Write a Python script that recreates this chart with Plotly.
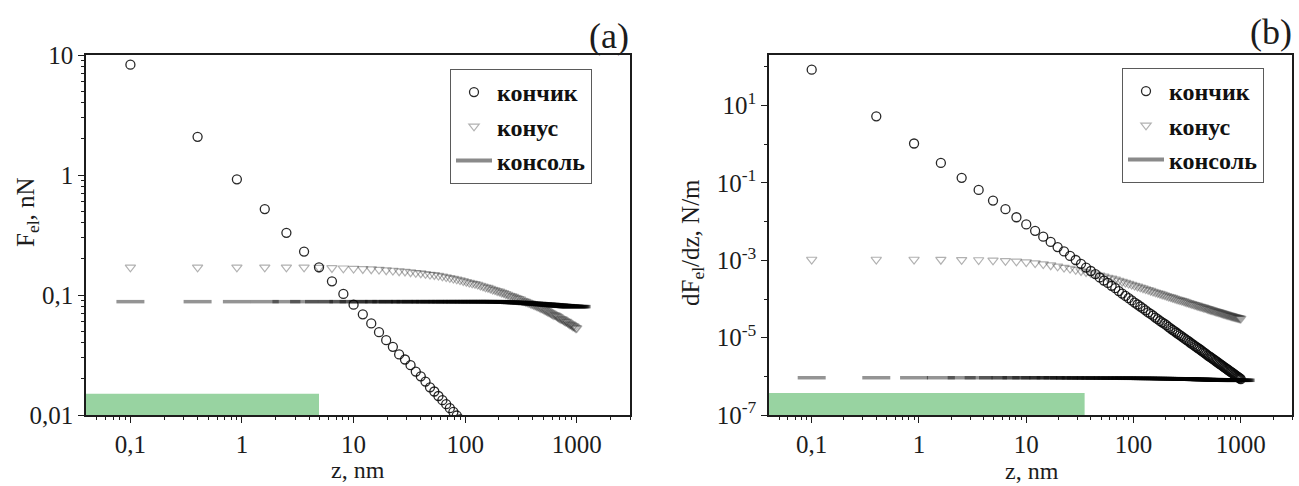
import math
import plotly.graph_objects as go

# Tip-sample separation z (nm); every series in both panels is sampled on it
z_nm = [
    0.1, 0.4, 0.9, 1.6, 2.5, 3.6, 4.9, 6.4, 8.1, 10.0,
    12.1, 14.4, 16.9, 19.6, 22.5, 25.6, 28.9, 32.4, 36.1, 40.0,
    44.1, 48.4, 52.9, 57.6, 62.5, 67.6, 72.9, 78.4, 84.1, 90.0,
    96.1, 102.4, 108.9, 115.6, 122.5, 129.6, 136.9, 144.4, 152.1, 160.0,
    168.1, 176.4, 184.9, 193.6, 202.5, 211.6, 220.9, 230.4, 240.1, 250.0,
    260.1, 270.4, 280.9, 291.6, 302.5, 313.6, 324.9, 336.4, 348.1, 360.0,
    372.1, 384.4, 396.9, 409.6, 422.5, 435.6, 448.9, 462.4, 476.1, 490.0,
    504.1, 518.4, 532.9, 547.6, 562.5, 577.6, 592.9, 608.4, 624.1, 640.0,
    656.1, 672.4, 688.9, 705.6, 722.5, 739.6, 756.9, 774.4, 792.1, 810.0,
    828.1, 846.4, 864.9, 883.6, 902.5, 921.6, 940.9, 960.4, 980.1, 1000.0,
]

# (a) electrostatic force, nN (tip values shown down to the 0.01 floor)
tip_force = [
    8.3, 2.08, 0.92, 0.52, 0.33, 0.23, 0.17, 0.13, 0.102, 0.083,
    0.069, 0.058, 0.049, 0.042, 0.037, 0.032, 0.029, 0.026, 0.023, 0.021,
    0.019, 0.017, 0.0157, 0.0144, 0.0133, 0.0123, 0.0114, 0.0106, 0.0099, 0.0092,
]
cone_force = [
    0.170, 0.170, 0.170, 0.170, 0.170, 0.170, 0.169, 0.168, 0.167, 0.166,
    0.165, 0.164, 0.163, 0.161, 0.160, 0.158, 0.157, 0.155, 0.153, 0.152,
    0.150, 0.148, 0.147, 0.145, 0.143, 0.141, 0.139, 0.137, 0.135, 0.133,
    0.131, 0.129, 0.127, 0.125, 0.124, 0.122, 0.120, 0.118, 0.116, 0.115,
    0.113, 0.111, 0.110, 0.108, 0.107, 0.105, 0.104, 0.102, 0.101, 0.099,
    0.098, 0.097, 0.095, 0.094, 0.093, 0.092, 0.090, 0.089, 0.088, 0.087,
    0.086, 0.085, 0.084, 0.083, 0.082, 0.081, 0.080, 0.079, 0.078, 0.077,
    0.076, 0.075, 0.074, 0.073, 0.072, 0.071, 0.070, 0.069, 0.068, 0.068,
    0.067, 0.066, 0.065, 0.064, 0.063, 0.063, 0.062, 0.061, 0.060, 0.060,
    0.059, 0.058, 0.057, 0.057, 0.056, 0.055, 0.055, 0.054, 0.053, 0.053,
]
lever_force = [
    0.088, 0.088, 0.088, 0.088, 0.088, 0.088, 0.088, 0.088, 0.088, 0.088,
    0.088, 0.088, 0.088, 0.088, 0.088, 0.088, 0.088, 0.088, 0.088, 0.088,
    0.088, 0.088, 0.088, 0.088, 0.088, 0.088, 0.088, 0.088, 0.088, 0.088,
    0.088, 0.088, 0.088, 0.088, 0.088, 0.088, 0.088, 0.088, 0.088, 0.088,
    0.088, 0.088, 0.088, 0.088, 0.0875, 0.0875, 0.0875, 0.0875, 0.087, 0.087,
    0.087, 0.087, 0.0865, 0.0865, 0.0865, 0.086, 0.086, 0.086, 0.0855, 0.0855,
    0.0855, 0.085, 0.085, 0.085, 0.0845, 0.0845, 0.0845, 0.084, 0.084, 0.084,
    0.0835, 0.0835, 0.0835, 0.083, 0.083, 0.083, 0.0825, 0.0825, 0.0825, 0.082,
    0.082, 0.082, 0.0815, 0.0815, 0.0815, 0.081, 0.081, 0.081, 0.081, 0.0805,
    0.0805, 0.0805, 0.0805, 0.080, 0.080, 0.080, 0.080, 0.080, 0.080, 0.080,
]

# (b) force gradient dF/dz, N/m
tip_grad = [
    85, 5.3, 1.05, 0.33, 0.136, 0.066, 0.035, 0.021, 0.013, 0.0085,
    0.0058, 0.0041, 0.0030, 0.0022, 0.0017, 0.0013, 0.00102, 0.00081, 0.00065, 0.00053,
    4.4e-4, 3.6e-4, 3.0e-4, 2.6e-4, 2.2e-4, 1.9e-4, 1.6e-4, 1.38e-4, 1.20e-4, 1.05e-4,
    9.2e-5, 8.1e-5, 7.2e-5, 6.4e-5, 5.7e-5, 5.1e-5, 4.5e-5, 4.1e-5, 3.7e-5, 3.3e-5,
    3.0e-5, 2.7e-5, 2.5e-5, 2.3e-5, 2.1e-5, 1.9e-5, 1.74e-5, 1.60e-5, 1.47e-5, 1.36e-5,
    1.26e-5, 1.16e-5, 1.08e-5, 1.00e-5, 9.3e-6, 8.6e-6, 8.1e-6, 7.5e-6, 7.0e-6, 6.6e-6,
    6.1e-6, 5.8e-6, 5.4e-6, 5.1e-6, 4.8e-6, 4.5e-6, 4.2e-6, 4.0e-6, 3.75e-6, 3.5e-6,
    3.35e-6, 3.16e-6, 3.0e-6, 2.83e-6, 2.69e-6, 2.55e-6, 2.42e-6, 2.3e-6, 2.18e-6, 2.08e-6,
    1.97e-6, 1.88e-6, 1.79e-6, 1.71e-6, 1.63e-6, 1.55e-6, 1.48e-6, 1.42e-6, 1.35e-6, 1.30e-6,
    1.24e-6, 1.19e-6, 1.14e-6, 1.09e-6, 1.04e-6, 1.00e-6, 9.6e-7, 9.2e-7, 8.8e-7, 8.5e-7,
]
cone_grad = [
    1.05e-3, 1.05e-3, 1.05e-3, 1.04e-3, 1.03e-3, 1.02e-3, 1.00e-3, 9.7e-4, 9.4e-4, 9.0e-4,
    8.5e-4, 8.0e-4, 7.5e-4, 7.0e-4, 6.5e-4, 6.1e-4, 5.7e-4, 5.3e-4, 5.0e-4, 4.7e-4,
    4.4e-4, 4.1e-4, 3.85e-4, 3.6e-4, 3.4e-4, 3.2e-4, 3.0e-4, 2.8e-4, 2.65e-4, 2.5e-4,
    2.36e-4, 2.23e-4, 2.11e-4, 2.0e-4, 1.9e-4, 1.8e-4, 1.72e-4, 1.64e-4, 1.56e-4, 1.49e-4,
    1.43e-4, 1.37e-4, 1.31e-4, 1.26e-4, 1.21e-4, 1.16e-4, 1.12e-4, 1.08e-4, 1.04e-4, 1.0e-4,
    9.7e-5, 9.4e-5, 9.1e-5, 8.8e-5, 8.5e-5, 8.25e-5, 8.0e-5, 7.75e-5, 7.5e-5, 7.3e-5,
    7.1e-5, 6.9e-5, 6.7e-5, 6.5e-5, 6.35e-5, 6.2e-5, 6.05e-5, 5.9e-5, 5.75e-5, 5.6e-5,
    5.45e-5, 5.3e-5, 5.2e-5, 5.1e-5, 4.95e-5, 4.85e-5, 4.75e-5, 4.65e-5, 4.55e-5, 4.45e-5,
    4.35e-5, 4.25e-5, 4.17e-5, 4.09e-5, 4.01e-5, 3.93e-5, 3.86e-5, 3.79e-5, 3.72e-5, 3.65e-5,
    3.59e-5, 3.53e-5, 3.47e-5, 3.41e-5, 3.36e-5, 3.31e-5, 3.26e-5, 3.21e-5, 3.16e-5, 3.12e-5,
]
lever_grad = [
    9.2e-7, 9.2e-7, 9.2e-7, 9.2e-7, 9.2e-7, 9.2e-7, 9.2e-7, 9.2e-7, 9.2e-7, 9.2e-7,
    9.2e-7, 9.2e-7, 9.2e-7, 9.2e-7, 9.1e-7, 9.1e-7, 9.1e-7, 9.1e-7, 9.1e-7, 9.1e-7,
    9.0e-7, 9.0e-7, 9.0e-7, 9.0e-7, 9.0e-7, 9.0e-7, 9.0e-7, 9.0e-7, 9.0e-7, 9.0e-7,
    8.9e-7, 8.9e-7, 8.9e-7, 8.9e-7, 8.9e-7, 8.8e-7, 8.8e-7, 8.8e-7, 8.8e-7, 8.8e-7,
    8.8e-7, 8.8e-7, 8.8e-7, 8.7e-7, 8.7e-7, 8.7e-7, 8.7e-7, 8.6e-7, 8.6e-7, 8.6e-7,
    8.6e-7, 8.6e-7, 8.6e-7, 8.5e-7, 8.5e-7, 8.5e-7, 8.5e-7, 8.4e-7, 8.4e-7, 8.4e-7,
    8.4e-7, 8.4e-7, 8.4e-7, 8.3e-7, 8.3e-7, 8.3e-7, 8.3e-7, 8.2e-7, 8.2e-7, 8.2e-7,
    8.2e-7, 8.2e-7, 8.2e-7, 8.2e-7, 8.1e-7, 8.1e-7, 8.1e-7, 8.1e-7, 8.1e-7, 8.1e-7,
    8.1e-7, 8.1e-7, 8.0e-7, 8.0e-7, 8.0e-7, 8.0e-7, 8.0e-7, 8.0e-7, 8.0e-7, 8.0e-7,
    7.9e-7, 7.9e-7, 7.9e-7, 7.9e-7, 7.9e-7, 7.9e-7, 7.9e-7, 7.9e-7, 7.9e-7, 7.9e-7,
]

# Shaded ranges along the bottom of each panel: [z_from, z_to], [value_from, value_to]
band_a_z = [0.04, 4.9]
band_a_v = [0.01, 0.015]
band_b_z = [0.04, 35.0]
band_b_v = [1e-7, 3.7e-7]

series_names = ["кончик", "конус", "консоль"]

x_tick_vals = [0.1, 1, 10, 100, 1000]
x_tick_text = ["0,1", "1", "10", "100", "1000"]
x_minor_vals = [0.05, 0.06, 0.07, 0.08, 0.09,
                0.2, 0.3, 0.4, 0.5, 0.6, 0.7, 0.8, 0.9,
                2, 3, 4, 5, 6, 7, 8, 9,
                20, 30, 40, 50, 60, 70, 80, 90,
                200, 300, 400, 500, 600, 700, 800, 900,
                2000, 3000]
ya_tick_vals = [0.01, 0.1, 1, 10]
ya_tick_text = ["0,01", "0,1", "1", "10"]
ya_minor_vals = [0.02, 0.03, 0.04, 0.05, 0.06, 0.07, 0.08, 0.09,
                 0.2, 0.3, 0.4, 0.5, 0.6, 0.7, 0.8, 0.9,
                 2, 3, 4, 5, 6, 7, 8, 9]
yb_tick_vals = [1e-7, 1e-5, 1e-3, 1e-1, 1e1]
yb_tick_text = ["10<sup>-7</sup>", "10<sup>-5</sup>", "10<sup>-3</sup>",
                "10<sup>-1</sup>", "10<sup>1</sup>"]
yb_minor_vals = [1e-6, 1e-4, 1e-2, 1, 100]

W, H = 1299, 486
FONT = "Liberation Serif"
INK = "#1c1c1c"
GREEN = "#98d3a1"
TIP_COL = "rgba(10,10,10,0.88)"
CONE_COL = "rgba(40,40,40,0.36)"
LEVER_COL = "rgba(0,0,0,0.42)"

fig = go.Figure()


def add_panel(xa, ya, tip, cone, lever, band_z, band_v, legend_id):
    # shaded strip along the axis floor
    fig.add_trace(go.Scatter(
        x=[band_z[0], band_z[1], band_z[1], band_z[0], band_z[0]],
        y=[band_v[0], band_v[0], band_v[1], band_v[1], band_v[0]],
        fill="toself", fillcolor=GREEN, mode="lines", line=dict(width=0),
        hoverinfo="skip", showlegend=False, xaxis=xa, yaxis=ya))
    fig.add_trace(go.Scatter(
        x=z_nm[:len(cone)], y=cone, mode="markers", name=series_names[1],
        marker=dict(symbol="triangle-down-open", size=9, color=CONE_COL,
                    line=dict(width=1.2, color=CONE_COL)),
        legend=legend_id, legendrank=2, xaxis=xa, yaxis=ya))
    fig.add_trace(go.Scatter(
        x=z_nm[:len(tip)], y=tip, mode="markers", name=series_names[0],
        marker=dict(symbol="circle-open", size=9, color=TIP_COL,
                    line=dict(width=1.3, color=TIP_COL)),
        legend=legend_id, legendrank=1, xaxis=xa, yaxis=ya))
    fig.add_trace(go.Scatter(
        x=z_nm[:len(lever)], y=lever, mode="markers", name=series_names[2],
        marker=dict(symbol="line-ew", size=20, color=LEVER_COL,
                    line=dict(width=3.5, color=LEVER_COL)),
        showlegend=False, xaxis=xa, yaxis=ya))
    # legend key for the cantilever series drawn as a short bar
    fig.add_trace(go.Scatter(
        x=[None], y=[None], mode="lines", name=series_names[2],
        line=dict(color="#8a8a8a", width=4),
        legend=legend_id, legendrank=3, xaxis=xa, yaxis=ya))


add_panel("x", "y", tip_force, cone_force, lever_force, band_a_z, band_a_v, "legend")
add_panel("x2", "y2", tip_grad, cone_grad, lever_grad, band_b_z, band_b_v, "legend2")

x_range = [math.log10(0.04), math.log10(3000)]
y_dom = [71 / H, 431 / H]

common_axis = dict(
    type="log", showline=True, linecolor=INK, linewidth=1.5, mirror=True,
    ticks="outside", ticklen=6, tickwidth=1.3, tickcolor=INK,
    showgrid=False, zeroline=False, automargin=False,
    tickfont=dict(family=FONT, size=25, color=INK),
)


def minor(vals):
    return dict(tickmode="array", tickvals=vals, ticks="outside", ticklen=3,
                tickwidth=1, tickcolor=INK, showgrid=False)


legend_common = dict(
    xanchor="left", yanchor="top", bgcolor="white",
    bordercolor="#5a5a5a", borderwidth=1, itemwidth=36,
    font=dict(family=FONT, size=24, color="#111", weight="bold"),
    tracegroupgap=0,
)

fig.update_layout(
    width=W, height=H, autosize=False,
    margin=dict(l=0, r=0, t=0, b=0, pad=0, autoexpand=False),
    paper_bgcolor="white", plot_bgcolor="white",
    xaxis=dict(common_axis, domain=[86 / W, 630 / W], range=x_range, anchor="y",
               tickvals=x_tick_vals, ticktext=x_tick_text, ticklabelstandoff=0,
               minor=minor(x_minor_vals)),
    yaxis=dict(common_axis, domain=y_dom, range=[-2, 1], anchor="x",
               tickvals=ya_tick_vals, ticktext=ya_tick_text,
               minor=minor(ya_minor_vals)),
    xaxis2=dict(common_axis, domain=[769 / W, 1292 / W], range=x_range, anchor="y2",
                tickvals=x_tick_vals, ticktext=x_tick_text, ticklabelstandoff=0,
                minor=minor(x_minor_vals)),
    yaxis2=dict(common_axis, domain=y_dom, range=[-7, 2.31], anchor="x2",
                tickvals=yb_tick_vals, ticktext=yb_tick_text,
                minor=minor(yb_minor_vals)),
    legend=dict(legend_common, x=450 / W, y=1 - 69 / H),
    legend2=dict(legend_common, x=1122 / W, y=1 - 68 / H),
)

labels = [
    dict(text="(a)", x=631 / W, y=1 - 36 / H, xanchor="right", size=36, angle=0),
    dict(text="(b)", x=1294 / W, y=1 - 32 / H, xanchor="right", size=36, angle=0),
    dict(text="z, nm", x=358 / W, y=1 - 470 / H, xanchor="center", size=24, angle=0),
    dict(text="z, nm", x=1032 / W, y=1 - 471 / H, xanchor="center", size=24, angle=0),
    dict(text="F<sub>el</sub>, nN", x=27 / W, y=1 - 212 / H, xanchor="center", size=25, angle=-90),
    dict(text="dF<sub>el</sub>/dz, N/m", x=692 / W, y=1 - 243 / H, xanchor="center", size=25, angle=-90),
]
for lab in labels:
    fig.add_annotation(
        text=lab["text"], x=lab["x"], y=lab["y"], xref="paper", yref="paper",
        xanchor=lab["xanchor"], yanchor="middle", showarrow=False,
        textangle=lab["angle"], font=dict(family=FONT, size=lab["size"], color=INK))

fig.write_html("out.html")
